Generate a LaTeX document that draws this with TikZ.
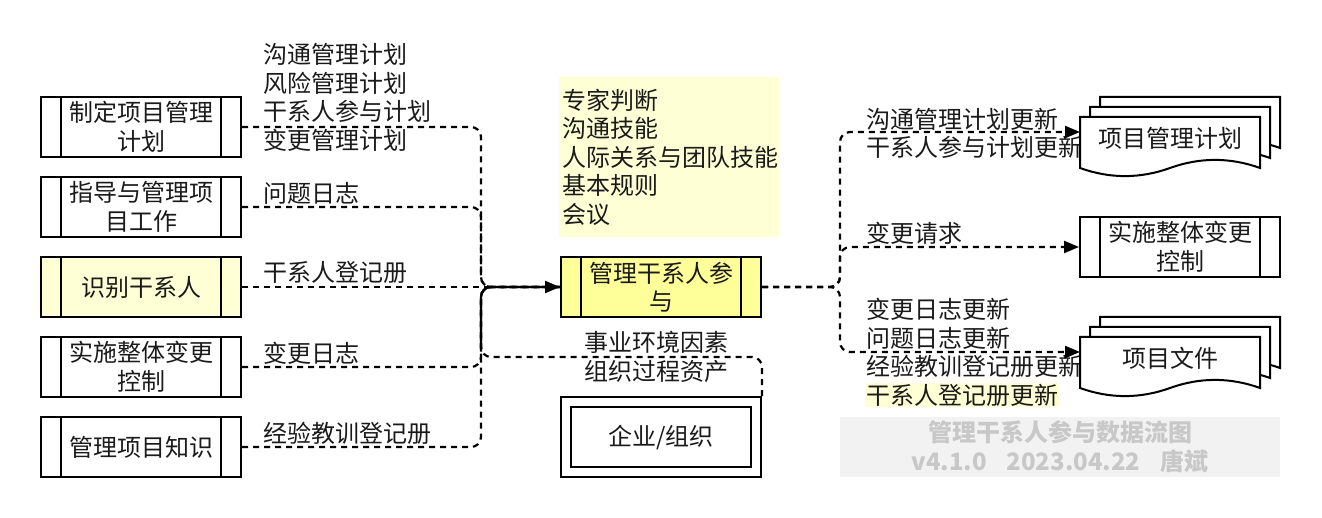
\documentclass[tikz,border=0pt]{standalone}
\usepackage{fontspec}
\setmainfont{Noto Sans CJK SC}
\usetikzlibrary{arrows.meta,calc}
\definecolor{ylw}{HTML}{FFFF99}
\definecolor{lylw}{HTML}{FFFFD6}
\definecolor{wmbg}{HTML}{F2F2F2}
\definecolor{wmtx}{HTML}{C8C8C8}
\definecolor{txt}{HTML}{1A1A1A}
\tikzset{
  base/.style={font=\fontsize{24}{28.5}\selectfont, text=txt},
  proc/.style={base, draw, line width=2pt, minimum width=200pt, minimum height=60pt,
    inner sep=0pt, align=center, path picture={
      \draw[line width=2pt] ([xshift=20pt]path picture bounding box.north west) -- ([xshift=20pt]path picture bounding box.south west);
      \draw[line width=2pt] ([xshift=-20pt]path picture bounding box.north east) -- ([xshift=-20pt]path picture bounding box.south east);}},
  lbl/.style={base, inner sep=0pt, align=left, anchor=west},
  flow/.style={line width=2.2pt, dash pattern=on 6pt off 5pt, rounded corners=10pt},
  trunk/.style={line width=2.2pt, rounded corners=10pt},
  tip/.style={-{Triangle[length=15pt,width=12pt]}},
  docst/.style={draw, fill=white, line width=2pt},
}
\newcommand\mydoc[2]{%
  \filldraw[docst] (#1,#2) -- (#1+180,#2) -- (#1+180,#2+51)
    .. controls (#1+150,#2+40.2) and (#1+120,#2+40.2) .. (#1+90,#2+51)
    .. controls (#1+60,#2+61.8) and (#1+30,#2+61.8) .. (#1,#2+51) -- cycle;}
\begin{document}
\begin{tikzpicture}[x=1pt,y=-1pt]
\useasboundingbox (0,0) rectangle (1322,518);
% left processes
\node[proc] (p1) at (141,127) {制定项目管理\\计划};
\node[proc] (p2) at (141,207) {指导与管理项\\目工作};
\node[proc, fill=lylw] (p3) at (141,287) {识别干系人};
\node[proc] (p4) at (141,367) {实施整体变更\\控制};
\node[proc] (p5) at (141,447) {管理项目知识};
% center
\node[proc, fill=ylw] (cm) at (661,287) {管理干系人参\\与};
\node[base, fill=lylw, minimum width=220pt, minimum height=160pt, text width=214pt,
  inner sep=3pt, align=left] (tools) at (669,157) {专家判断\\沟通技能\\人际关系与团队技能\\基本规则\\会议};
\node[base, draw, line width=2pt, minimum width=200pt, minimum height=80pt, path picture={
  \draw[line width=2pt] ([shift={(10pt,-10pt)}]path picture bounding box.north west) rectangle ([shift={(-10pt,10pt)}]path picture bounding box.south east);}]
  (ent) at (661,437) {企业/组织};
% labels
\node[lbl] (l1) at (263,97.5) {沟通管理计划\\风险管理计划\\干系人参与计划\\变更管理计划};
\node[lbl] (l2) at (263,193) {问题日志};
\node[lbl] (l3) at (263,272) {干系人登记册};
\node[lbl] (l4) at (263,353) {变更日志};
\node[lbl] (l5) at (263,433) {经验教训登记册};
\node[base, inner sep=0pt, align=center] (l6) at (656,357) {事业环境因素\\组织过程资产};
\node[lbl] (r1) at (866,133.5) {沟通管理计划更新\\干系人参与计划更新};
\node[lbl] (r2) at (866,233) {变更请求};
\node[lbl] (r3) at (866,338) {变更日志更新\\问题日志更新\\经验教训登记册更新};
\node[lbl, fill=lylw, inner sep=1pt] (r4) at (865,395) {干系人登记册更新};
% watermark
\node[base, fill=wmbg, minimum width=440pt, minimum height=60pt, text=wmtx,
  font=\bfseries\fontsize{24}{29}\selectfont, align=center] (wm) at (1060,447)
  {管理干系人参与数据流图\\v4.1.0\hspace{20pt}2023.04.22\hspace{20pt}唐斌};
% right process
\node[proc] (ctrl) at (1180,247) {实施整体变更\\控制};
% connector helpers
\coordinate (jx) at (481,0);
\coordinate (rx) at (840,0);
\coordinate (eline) at (0,357);
\coordinate (tstart) at (481,349);
\coordinate (pmpin) at (1080,132);
\coordinate (pdin) at (1080,352);
% inputs
\draw[flow] (p1.east) -- (p1.east -| jx) -- (jx |- cm.west) -- (cm.west);
\draw[flow] (p2.east) -- (p2.east -| jx) -- (jx |- cm.west) -- (cm.west);
\draw[flow] (p3.east) -- (cm.west);
\draw[flow] (p4.east) -- (p4.east -| jx) -- (jx |- cm.west) -- (cm.west);
\draw[flow] (p5.east) -- (p5.east -| jx) -- (jx |- cm.west) -- (cm.west);
\draw[flow] (ent.north east) -- (ent.north east |- eline) -- (jx |- eline) -- (jx |- cm.west) -- (cm.west);
\draw[trunk, tip] (tstart) -- (jx |- cm.west) -- (cm.west);
% outputs
\draw[flow, tip] (cm.east) -- (rx |- cm.east) -- (rx |- pmpin) -- (pmpin);
\draw[flow, tip] (cm.east) -- (rx |- cm.east) -- (rx |- ctrl.west) -- (ctrl.west);
\draw[flow, tip] (cm.east) -- (rx |- cm.east) -- (rx |- pdin) -- (pdin);
% documents
\mydoc{1100}{97}
\mydoc{1090}{107}
\mydoc{1080}{117}
\node[base] (pmp) at (1170,138) {项目管理计划};
\mydoc{1100}{317}
\mydoc{1090}{327}
\mydoc{1080}{337}
\node[base] (pd) at (1170,358) {项目文件};
\end{tikzpicture}
\end{document}
